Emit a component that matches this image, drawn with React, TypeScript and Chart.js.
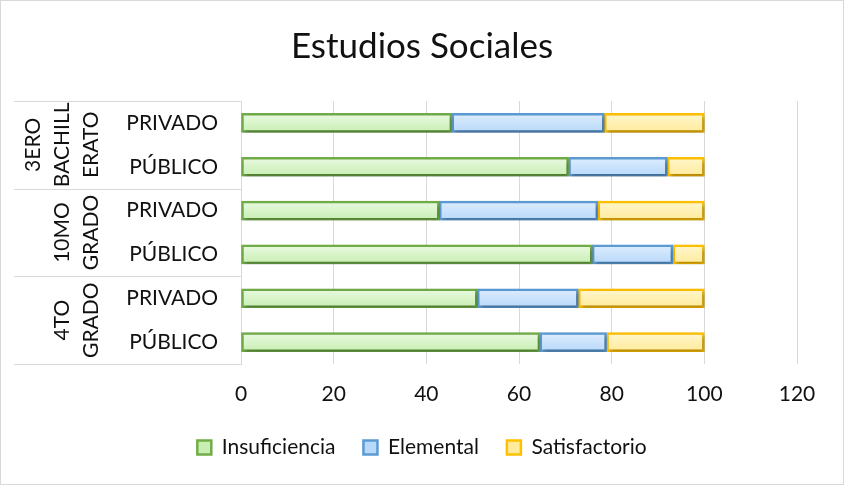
import React, { useEffect, useRef } from "react";
import { Chart, registerables } from "chart.js";

Chart.register(...registerables);

const titleText = "Estudios Sociales";
const categories = ["PRIVADO", "PÚBLICO", "PRIVADO", "PÚBLICO", "PRIVADO", "PÚBLICO"];
const groupLabels = [["3ERO", "BACHILL", "ERATO"], ["10MO", "GRADO"], ["4TO", "GRADO"]];
const groupSizes = [2, 2, 2];
const insuficiencia = [45.5, 70.7, 42.8, 75.8, 51.0, 64.5];
const elemental = [32.9, 21.3, 34.2, 17.4, 21.8, 14.4];
const satisfactorio = [21.6, 8.0, 23.0, 6.8, 27.2, 21.1];
const xMin = 0;
const xMax = 120;
const xStep = 20;

const FONT = "Lato, 'Open Sans', sans-serif";
const TEXT = "#111111";
const GRID = "#d9d9d9";

function gradientFill(top: string, bottom: string) {
  return (ctx: any) => {
    const chart = ctx.chart;
    const y = chart.scales && chart.scales.y;
    if (!chart.chartArea || !y || ctx.dataIndex === undefined) return bottom;
    const cy = y.getPixelForValue(ctx.dataIndex);
    const g = chart.ctx.createLinearGradient(0, cy - 9, 0, cy + 9);
    g.addColorStop(0, top);
    g.addColorStop(1, bottom);
    return g;
  };
}

const shadowPlugin = {
  id: "barShadow",
  beforeDatasetsDraw(chart: any) {
    const c = chart.ctx;
    c.save();
    c.shadowColor = "rgba(0,0,0,0.32)";
    c.shadowBlur = 4;
    c.shadowOffsetX = 1.5;
    c.shadowOffsetY = 2.5;
  },
  afterDatasetsDraw(chart: any) {
    chart.ctx.restore();
  },
};

const groupPlugin = {
  id: "groupAxis",
  afterDraw(chart: any) {
    const c = chart.ctx;
    const y = chart.scales.y;
    const area = chart.chartArea;
    const n = categories.length;
    const band = (y.bottom - y.top) / n;
    c.save();
    c.strokeStyle = GRID;
    c.lineWidth = 1;
    let idx = 0;
    const bounds: number[] = [y.getPixelForValue(0) - band / 2];
    groupSizes.forEach((s) => {
      idx += s;
      bounds.push(y.getPixelForValue(idx - 1) + band / 2);
    });
    bounds.forEach((b) => {
      const yy = Math.round(b) + 0.5;
      c.beginPath();
      c.moveTo(14, yy);
      c.lineTo(area.left, yy);
      c.stroke();
    });
    c.fillStyle = TEXT;
    c.font = `21px ${FONT}`;
    c.textAlign = "center";
    c.textBaseline = "middle";
    groupLabels.forEach((lines, gi) => {
      const cy = (bounds[gi] + bounds[gi + 1]) / 2;
      const lastX = 90;
      const spacing = 29;
      lines.forEach((line, li) => {
        const x = lastX - (lines.length - 1 - li) * spacing;
        c.save();
        c.translate(x, cy);
        c.rotate(-Math.PI / 2);
        c.fillText(line, 0, 1);
        c.restore();
      });
    });
    // outer chart border
    c.strokeStyle = GRID;
    c.strokeRect(0.5, 0.5, chart.width - 1, chart.height - 1);
    c.restore();
  },
};

const bgPlugin = {
  id: "bg",
  beforeDraw(chart: any) {
    const c = chart.ctx;
    c.save();
    c.fillStyle = "#ffffff";
    c.fillRect(0, 0, chart.width, chart.height);
    c.restore();
  },
};

export default function App() {
  const ref = useRef<HTMLCanvasElement | null>(null);
  useEffect(() => {
    document.body.style.margin = "0";
    if (!ref.current) return;
    const chart = new Chart(ref.current, {
      type: "bar",
      data: {
        labels: categories,
        datasets: [
          {
            label: "Insuficiencia",
            data: insuficiencia,
            backgroundColor: gradientFill("#e9f9e1", "#c8efb3"),
            borderColor: "#70ad47",
            borderWidth: 2.5,
            borderSkipped: false,
          },
          {
            label: "Elemental",
            data: elemental,
            backgroundColor: gradientFill("#dcecfd", "#b9d9fa"),
            borderColor: "#5b9bd5",
            borderWidth: 2.5,
            borderSkipped: false,
          },
          {
            label: "Satisfactorio",
            data: satisfactorio,
            backgroundColor: gradientFill("#fff6cc", "#ffeb9c"),
            borderColor: "#ffc000",
            borderWidth: 2.5,
            borderSkipped: false,
          },
        ],
      },
      options: {
        animation: false,
        responsive: false,
        indexAxis: "y",
        datasets: { bar: { barThickness: 19 } },
        layout: { padding: { top: 0, left: 0, right: 0, bottom: 17 } },
        scales: {
          x: {
            stacked: true,
            min: xMin,
            max: xMax,
            ticks: {
              stepSize: xStep,
              color: TEXT,
              font: { family: FONT, size: 21 },
              padding: 18,
            },
            grid: { color: GRID, lineWidth: 1, drawTicks: false },
            border: { display: false },
            afterFit(scale: any) {
              scale.height = 45;
            },
          },
          y: {
            stacked: true,
            ticks: {
              color: TEXT,
              font: { family: FONT, size: 21 },
              padding: 23,
            },
            grid: { display: false, drawTicks: false },
            border: { display: true, color: GRID },
            afterFit(scale: any) {
              scale.width = 241;
            },
          },
          yr: {
            position: "right",
            display: true,
            ticks: { display: false },
            grid: { display: false, drawTicks: false },
            border: { display: false },
            afterFit(scale: any) {
              scale.width = 47;
            },
          },
        },
        plugins: {
          title: {
            display: true,
            text: titleText,
            color: TEXT,
            font: { family: FONT, size: 35, weight: "normal" },
            padding: { top: 26, bottom: 33 },
          },
          legend: {
            position: "bottom",
            labels: {
              color: TEXT,
              font: { family: FONT, size: 21 },
              boxWidth: 14,
              boxHeight: 14,
              padding: 28,
            },
          },
          tooltip: { enabled: false },
        },
      },
      plugins: [bgPlugin, shadowPlugin, groupPlugin],
    });
    return () => chart.destroy();
  }, []);
  return <canvas ref={ref} width={844} height={485} style={{ display: "block" }} />;
}
